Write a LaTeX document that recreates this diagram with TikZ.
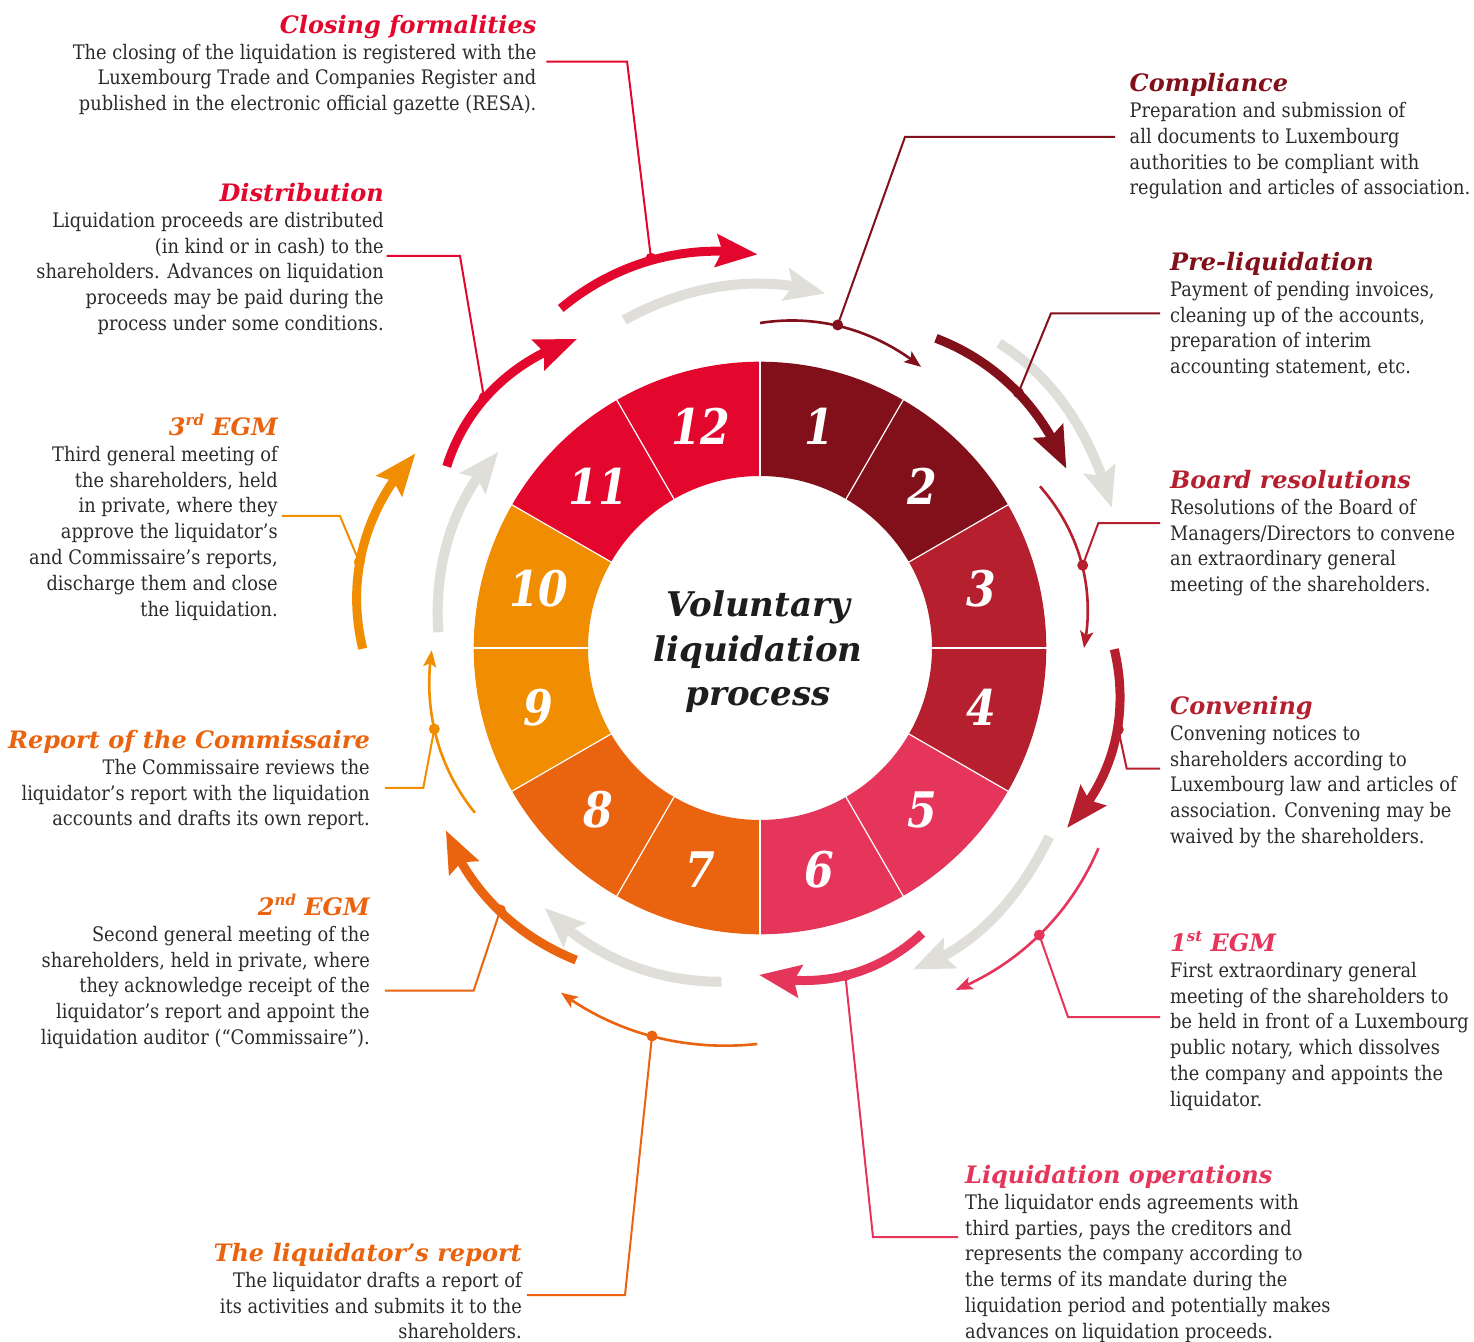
\documentclass[tikz,border=0pt]{standalone}
\usepackage{fontspec}
\setmainfont{DejaVu Serif}[FakeStretch=0.89]
\newfontfamily\hfont{DejaVu Serif}[FakeStretch=1.0]
\newfontfamily\nfont{DejaVu Serif}[FakeStretch=0.87]
\usetikzlibrary{arrows.meta,bending}
\definecolor{cA}{HTML}{82101A}
\definecolor{cB}{HTML}{B51F2E}
\definecolor{cC}{HTML}{E6355B}
\definecolor{cD}{HTML}{EA630E}
\definecolor{cE}{HTML}{F18D00}
\definecolor{cF}{HTML}{E4072D}
\definecolor{cG}{HTML}{E0DED9}
\definecolor{ctext}{HTML}{2B2B2B}
\definecolor{ctitle}{HTML}{1D1D1B}
\newcommand{\supx}[1]{\raisebox{0.42em}{\fontsize{15}{15}\selectfont #1}}
\newcommand{\blockL}[3]{\vtop{\halign{##\hfil\cr{\color{#1}\hfont\bfseries\itshape\fontsize{24}{25.8}\selectfont #2}\cr #3\crcr}}}
\newcommand{\blockR}[3]{\vtop{\halign{\hfil##\cr{\color{#1}\hfont\bfseries\itshape\fontsize{24}{25.8}\selectfont #2}\cr #3\crcr}}}
\newcommand{\blockC}[1]{\vtop{\halign{\hfil##\hfil\cr #1\crcr}}}
% single cubic Bezier along an arc (clockwise), with outward bulge #5
\newcommand{\bez}[5]{(#1:#3) .. controls ({(#1)-atan(4/3*tan(((#1)-(#2))/4))}:{(#3)*sqrt(1+(4/3*tan(((#1)-(#2))/4))^2)+1.333*(#5)}) and ({(#2)+atan(4/3*tan(((#1)-(#2))/4))}:{(#4)*sqrt(1+(4/3*tan(((#1)-(#2))/4))^2)+1.333*(#5)}) .. (#2:#4)}
\begin{document}
\begin{tikzpicture}[x=1pt,y=1pt,
  thinarr/.style={line width=2.6pt,-{Stealth[length=17pt,width=13.5pt,inset=4pt,line width=0pt]}},
  thickarr/.style={line width=9pt,-{Stealth[length=42pt,width=34pt,inset=7pt,line width=0pt]}},
  grayarr/.style={draw=cG,line width=10pt,-{Stealth[length=41pt,width=34pt,inset=8pt,line width=0pt]}},
  lead/.style={line width=2pt},
  divline/.style={draw=white,line width=1.2pt},
  num/.style={inner sep=0pt,text=white,font=\nfont\bfseries\itshape\fontsize{49}{49}\selectfont},
  blk/.style={inner sep=0pt,text=ctext,font=\fontsize{20}{25.8}\selectfont},
  ctr/.style={inner sep=0pt,text=ctitle,font=\hfont\bfseries\itshape\fontsize{34}{44.5}\selectfont}]
\fill[white] (-760,-693) rectangle (714,648);
\useasboundingbox (-760,-693) rectangle (714,648);

% ring
\foreach \k/\c in {1/cA,2/cA,3/cB,4/cB,5/cC,6/cC,7/cD,8/cD,9/cE,10/cE,11/cF,12/cF}{
  \pgfmathsetmacro\a{90-30*(\k-1)}
  \pgfmathsetmacro\b{\a-30}
  \fill[\c] (\a:172) arc[start angle=\a,end angle=\b,radius=172] -- (\b:286.3) arc[start angle=\b,end angle=\a,radius=286.3] -- cycle;
}
\foreach \k in {0,...,11}{\draw[divline] ({90-30*\k}:171.5) -- ({90-30*\k}:286.8);}
\foreach \k in {1,...,12}{\node[num] (n\k) at ({75-30*(\k-1)}:229) {\k};}

\node[ctr,anchor=base] (title) at (-2,31.3) {\blockC{Voluntary\cr liquidation\cr process}};

% gray arrows
\draw[grayarr] \bez{112.5}{79.6}{355}{360.6}{6};
\draw[grayarr] \bez{51.9}{21.8}{387.3}{378.8}{6};
\draw[grayarr] \bez{-33.1}{-64.5}{345.4}{356}{6};
\draw[grayarr] \bez{-96.6}{-129.6}{336}{337.6}{6};
\draw[grayarr] \bez{177.2}{143.2}{322}{327}{6};

% step arrows
\draw[thinarr,cA] \bez{90}{60.2}{325}{324}{7};
\draw[thickarr,cA] \bez{60.4}{30.4}{356.2}{355}{7.5};
\draw[thinarr,cB] \bez{30}{0}{323.3}{324}{9};
\draw[thickarr,cB] \bez{-0.2}{-30.3}{354.3}{356}{12};
\draw[thinarr,cC] \bez{-30.6}{-60.2}{393.2}{394}{7};
\draw[thickarr,cC] \bez{-60.4}{-90.1}{328.2}{327}{11};
\draw[thinarr,cD] \bez{-90.4}{-120}{396}{398}{6};
\draw[thickarr,cD] \bez{-120.5}{-149.8}{362.2}{363.3}{7.5};
\draw[thinarr,cE] \bez{-150}{-179.6}{329.3}{328.3}{7};
\draw[thickarr,cE] \bez{180.1}{150.6}{397.3}{395.8}{13};
\draw[thickarr,cF] \bez{149.9}{120.7}{362.1}{359.2}{11};
\draw[thickarr,cF] \bez{120.4}{90.4}{393.7}{393.7}{9};

% leader points
\coordinate (d1) at (77.7,323);   \coordinate (k1) at (145,511);     \coordinate (e1) at (355,511);
\coordinate (d2) at (258.4,255.3);\coordinate (k2) at (291,334.7);   \coordinate (e2) at (400,334.7);
\coordinate (d3) at (322.7,82.7); \coordinate (k3) at (338.3,124.8); \coordinate (e3) at (400,124.8);
\coordinate (d4) at (358.3,-81.5);\coordinate (k4) at (366.7,-120.5);\coordinate (e4) at (400,-120.5);
\coordinate (d5) at (279.3,-287); \coordinate (k5) at (308,-369);    \coordinate (e5) at (400,-369);
\coordinate (d6) at (85.4,-327.7);\coordinate (k6) at (113,-589);    \coordinate (e6) at (198,-589);
\coordinate (d7) at (-108,-388);  \coordinate (k7) at (-135,-647);   \coordinate (e7) at (-233,-647);
\coordinate (d8) at (-259.6,-262);\coordinate (k8) at (-286.4,-342.7);\coordinate (e8) at (-375,-342.7);
\coordinate (d9) at (-325.7,-81); \coordinate (k9) at (-336.7,-139.9);\coordinate (e9) at (-375,-139.9);
\coordinate (d10) at (-400.7,86); \coordinate (k10) at (-420,132);   \coordinate (e10) at (-478,132);
\coordinate (d11) at (-276,250.3);\coordinate (k11) at (-300,392);   \coordinate (e11) at (-373.3,392);
\coordinate (d12) at (-109,389.7);\coordinate (k12) at (-132.9,586.3);\coordinate (e12) at (-213.7,586.3);
\foreach \i/\c in {1/cA,2/cA,3/cB,4/cB,5/cC,6/cC,7/cD,8/cD,9/cE,10/cE,11/cF,12/cF}{
  \draw[lead,\c] (d\i) -- (k\i) -- (e\i);
  \fill[\c] (d\i) circle (5.5);
}

% text blocks
\node[blk,anchor=base east] (t12) at (-223.4,614.7) {\blockR{cF}{Closing formalities}{The closing of the liquidation is registered with the\cr
Luxembourg Trade and Companies Register and\cr
published in the electronic official gazette (RESA).}};
\node[blk,anchor=base west] (t1) at (369.5,556.3) {\blockL{cA}{Compliance}{Preparation and submission of\cr
all documents to Luxembourg\cr
authorities to be compliant with\cr
regulation and articles of association.}};
\node[blk,anchor=base east] (t11) at (-376,446.5) {\blockR{cF}{Distribution}{Liquidation proceeds are distributed\cr
(in kind or in cash) to the\cr
shareholders. Advances on liquidation\cr
proceeds may be paid during the\cr
process under some conditions.}};
\node[blk,anchor=base west] (t2) at (410,377.5) {\blockL{cA}{Pre-liquidation}{Payment of pending invoices,\cr
cleaning up of the accounts,\cr
preparation of interim\cr
accounting statement, etc.}};
\node[blk,anchor=base east] (t10) at (-482,212.5) {\blockR{cD}{3\supx{rd} EGM}{Third general meeting of\cr
the shareholders, held\cr
in private, where they\cr
approve the liquidator’s\cr
and Commissaire’s reports,\cr
discharge them and close\cr
the liquidation.}};
\node[blk,anchor=base west] (t3) at (410,159.5) {\blockL{cB}{Board resolutions}{Resolutions of the Board of\cr
Managers/Directors to convene\cr
an extraordinary general\cr
meeting of the shareholders.}};
\node[blk,anchor=base west] (t4) at (410,-66.5) {\blockL{cB}{Convening}{Convening notices to\cr
shareholders according to\cr
Luxembourg law and articles of\cr
association. Convening may be\cr
waived by the shareholders.}};
\node[blk,anchor=base east] (t9) at (-390,-100.5) {\blockR{cD}{Report of the Commissaire}{The Commissaire reviews the\cr
liquidator’s report with the liquidation\cr
accounts and drafts its own report.}};
\node[blk,anchor=base east] (t8) at (-390,-267.5) {\blockR{cD}{2\supx{nd} EGM}{Second general meeting of the\cr
shareholders, held in private, where\cr
they acknowledge receipt of the\cr
liquidator’s report and appoint the\cr
liquidation auditor (“Commissaire”).}};
\node[blk,anchor=base west] (t5) at (410,-303.5) {\blockL{cC}{1\supx{st} EGM}{First extraordinary general\cr
meeting of the shareholders to\cr
be held in front of a Luxembourg\cr
public notary, which dissolves\cr
the company and appoints the\cr
liquidator.}};
\node[blk,anchor=base west] (t6) at (205,-535.5) {\blockL{cC}{Liquidation operations}{The liquidator ends agreements with\cr
third parties, pays the creditors and\cr
represents the company according to\cr
the terms of its mandate during the\cr
liquidation period and potentially makes\cr
advances on liquidation proceeds.}};
\node[blk,anchor=base east] (t7) at (-238,-613.5) {\blockR{cD}{The liquidator’s report}{The liquidator drafts a report of\cr
its activities and submits it to the\cr
shareholders.}};
\end{tikzpicture}
\end{document}
